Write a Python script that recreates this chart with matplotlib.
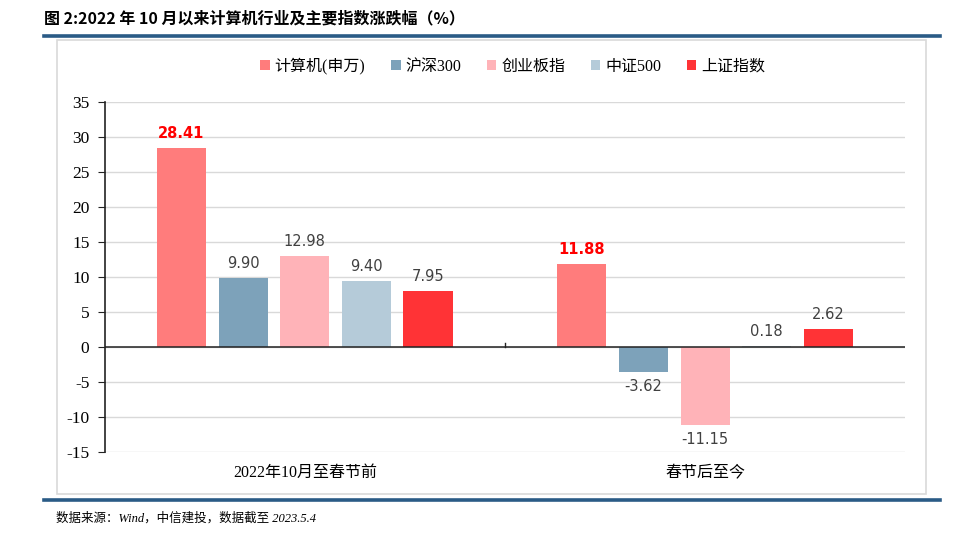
import matplotlib.pyplot as plt
import numpy as np
from matplotlib.patches import Rectangle
from matplotlib.lines import Line2D

plt.rcParams['font.family'] = ['Liberation Serif', 'Noto Sans CJK SC', 'DejaVu Sans']

categories = ["2022年10月至春节前", "春节后至今"]
series_names = ["计算机(申万)", "沪深300", "创业板指", "中证500", "上证指数"]
values = [
    [28.41, 11.88],
    [9.90, -3.62],
    [12.98, -11.15],
    [9.40, 0.18],
    [7.95, 2.62],
]
colors = ["#FF7C7C", "#7DA2BA", "#FFB3B8", "#B5CBD9", "#FF3336"]
highlight = [True, False, False, False, False]
y_ticks = [-15, -10, -5, 0, 5, 10, 15, 20, 25, 30, 35]

fig = plt.figure(figsize=(9.6, 5.48), dpi=100)

# frame and header/footer rules
fig.patches.append(Rectangle((0.059, 0.0985), 0.906, 0.828, transform=fig.transFigure,
                             fill=False, edgecolor="#D9D9D9", linewidth=1.2))
fig.add_artist(Line2D([0.046, 0.979], [0.934, 0.934], transform=fig.transFigure,
                      color="#2A5B86", linewidth=2.6))
fig.add_artist(Line2D([0.046, 0.979], [0.0876, 0.0876], transform=fig.transFigure,
                      color="#2A5B86", linewidth=2.6))
fig.text(0.046, 0.967, "图 2:2022 年 10 月以来计算机行业及主要指数涨跌幅（%）",
         fontsize=11.5, fontweight="bold", va="center", ha="left",
         family=["Noto Sans CJK SC"])
fig.text(0.058, 0.054, "数据来源：Wind，中信建投，数据截至 2023.5.4",
         fontsize=9, style="italic", va="center", ha="left",
         family=["Liberation Serif", "Noto Sans CJK SC"])

ax = fig.add_axes([0.109, 0.175, 0.834, 0.639])
x = np.arange(len(categories))
width = 0.123
step = 0.154
offsets = (np.arange(len(series_names)) - 2) * step

for i, name in enumerate(series_names):
    bars = ax.bar(x + offsets[i], values[i], width, color=colors[i], label=name, zorder=3)
    for b, v in zip(bars, values[i]):
        cx = b.get_x() + b.get_width() / 2
        dy = 1.0 if v >= 0 else -1.0
        va = "bottom" if v >= 0 else "top"
        if highlight[i]:
            ax.text(cx, v + dy, f"{v:.2f}", ha="center", va=va, fontsize=10.5,
                    color="#FF0000", fontweight="bold", family=["DejaVu Sans"])
        else:
            ax.text(cx, v + dy, f"{v:.2f}", ha="center", va=va, fontsize=10.5,
                    color="#404040", family=["DejaVu Sans"])

ax.set_xlim(-0.5, 1.5)
ax.set_ylim(-15, 35)
ax.set_yticks(y_ticks)
ax.set_yticklabels([str(t) for t in y_ticks], fontsize=12.5)
ax.grid(axis="y", color="#D9D9D9", linewidth=1, zorder=0)
ax.axhline(0, color="#222222", linewidth=1.1, zorder=4)
ax.plot([0.5, 0.5], [0, 0.6], color="#222222", linewidth=1, zorder=4, clip_on=False)

for s in ["top", "right", "bottom"]:
    ax.spines[s].set_visible(False)
ax.spines["left"].set_color("#222222")
ax.spines["left"].set_linewidth(1.2)
ax.tick_params(axis="y", length=5, color="#222222", pad=6)
ax.set_xticks([])
for xi, c in zip(x, categories):
    ax.text(xi, -18.0, c, ha="center", va="center", fontsize=11.5,
            family=["Liberation Serif", "Noto Sans CJK SC"])

leg = fig.legend(loc="center", bbox_to_anchor=(0.534, 0.879), ncol=5, frameon=False,
                 handlelength=0.6, handleheight=0.6, handletextpad=0.3,
                 columnspacing=1.6, prop={"family": ["Liberation Serif", "Noto Sans CJK SC"], "size": 11.5})

fig.savefig("out.png", dpi=100)
